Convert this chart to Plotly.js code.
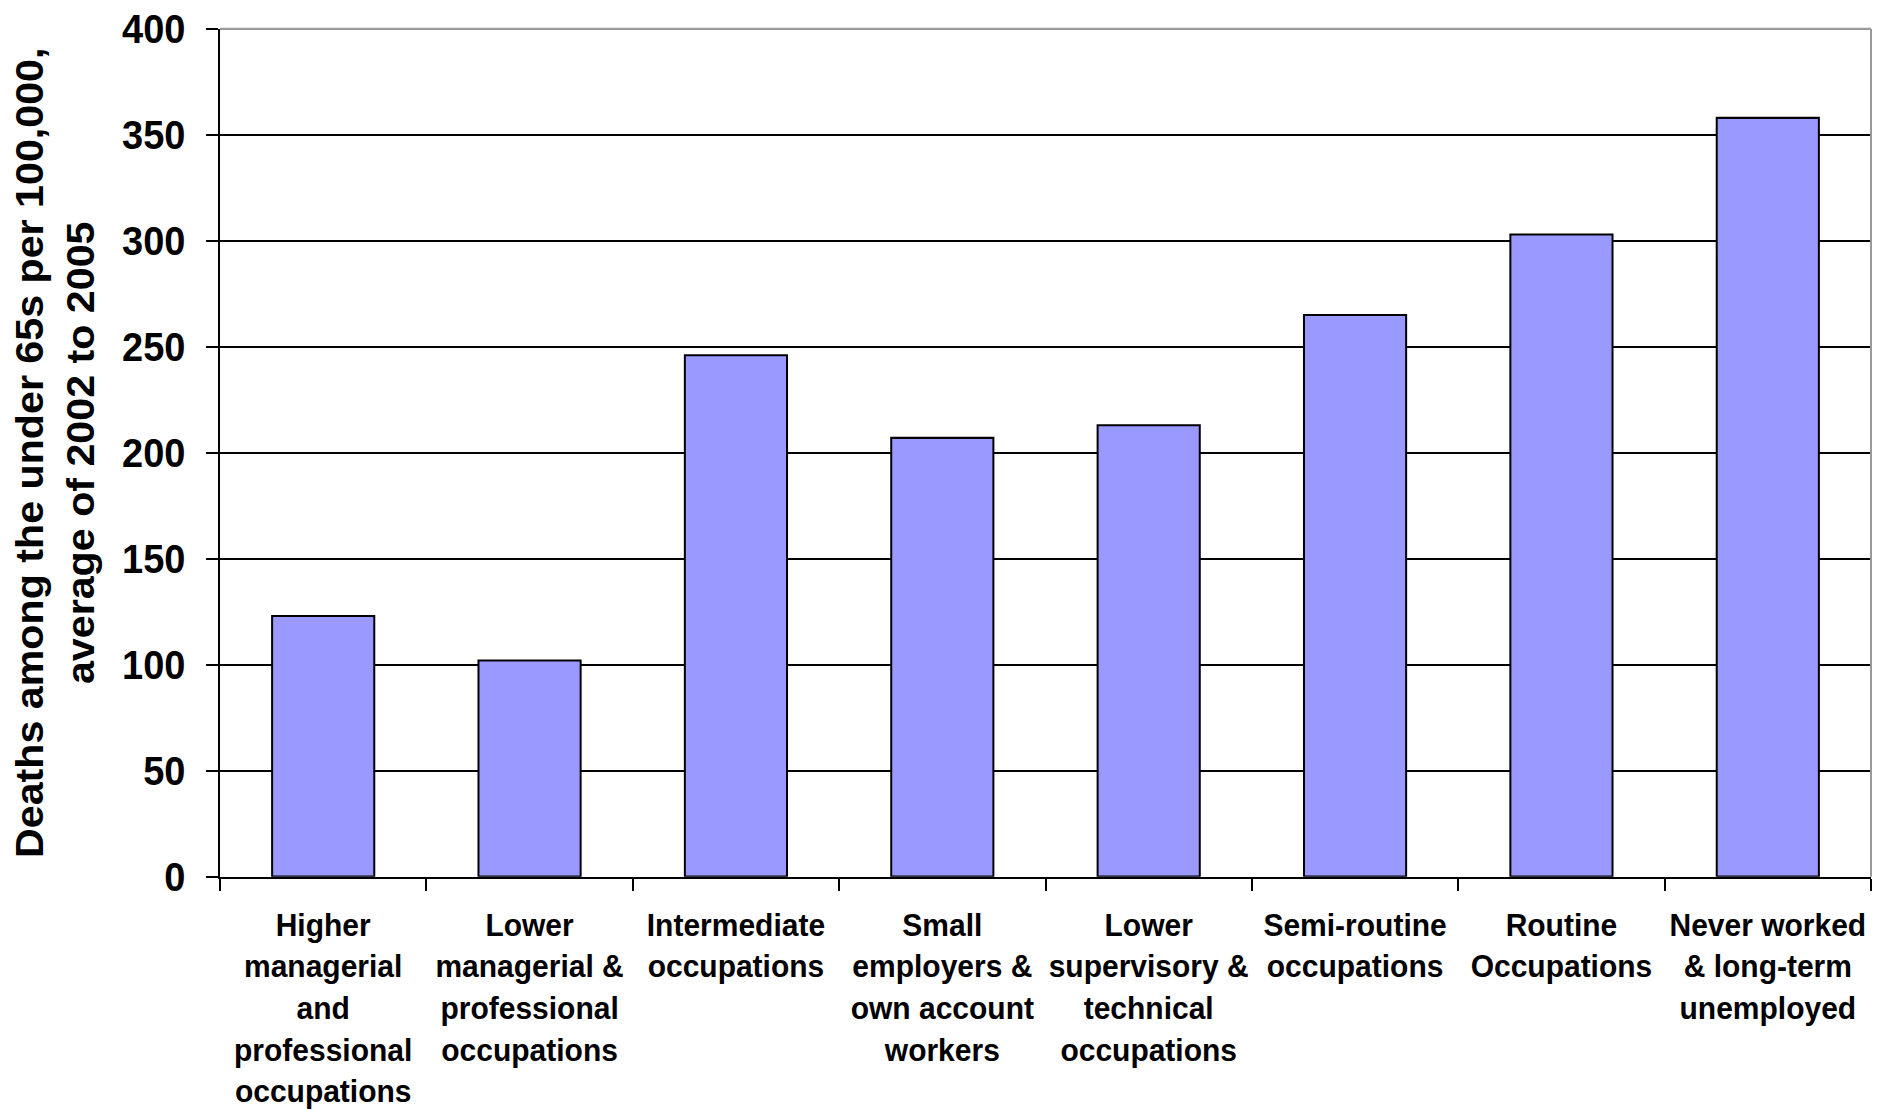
<!DOCTYPE html>
<html>
<head>
<meta charset="utf-8">
<script src="https://cdn.plot.ly/plotly-3.0.1.min.js"></script>
<style>
  html { margin: 0; padding: 0; background: #ffffff; overflow: hidden; }
  body { margin: 0; padding: 0; background: #ffffff; width: 1889px; height: 1110px; }
  #chart { width: 1889px; transform-origin: 0 0; }
</style>
</head>
<body>
<div id="chart"></div>
<script>
// Occupational classes (NS-SEC), in order along the x axis
const categories = [
  "Higher<br>managerial<br>and<br>professional<br>occupations",
  "Lower<br>managerial &<br>professional<br>occupations",
  "Intermediate<br>occupations",
  "Small<br>employers &<br>own account<br>workers",
  "Lower<br>supervisory &<br>technical<br>occupations",
  "Semi-routine<br>occupations",
  "Routine<br>Occupations",
  "Never worked<br>& long-term<br>unemployed"
];

// Deaths among the under 65s per 100,000, average of 2002 to 2005
const deathRates = [123, 102, 246, 207, 213, 265, 303, 358];

// Value axis ticks
const yTickValues = [0, 50, 100, 150, 200, 250, 300, 350, 400];
const yTickLabels = ["0", "50", "100", "150", "200", "250", "300", "350", "400"];

const yTitle = "Deaths among the under 65s per 100,000,<br>average of 2002 to 2005";

const FONT = "'Liberation Sans', Arial, Helvetica, sans-serif";

// The figure is laid out a little shorter and then stretched vertically
// to fill the page, which gives the tall, slightly condensed lettering.
const PAGE_H = 1110;
const FIG_H = 1037;
const chartDiv = document.getElementById("chart");
chartDiv.style.height = FIG_H + "px";
chartDiv.style.transform = "scaleY(" + (PAGE_H / FIG_H) + ")";

const trace = {
  type: "bar",
  x: categories,
  y: deathRates,
  marker: {
    color: "#9999ff",
    line: { color: "#000000", width: 2 }
  },
  hoverinfo: "x+y"
};

const layout = {
  width: 1889,
  height: FIG_H,
  margin: { l: 220, r: 18, t: 27, b: 218, pad: 0 },
  paper_bgcolor: "#ffffff",
  plot_bgcolor: "#ffffff",
  showlegend: false,
  bargap: 0.505,
  font: { family: FONT, color: "#000000" },
  xaxis: {
    type: "category",
    tickson: "boundaries",
    ticks: "outside",
    ticklen: 11,
    tickwidth: 2,
    tickcolor: "#000000",
    showline: true,
    linecolor: "#000000",
    linewidth: 2,
    showgrid: false,
    tickangle: 0,
    ticklabelstandoff: 17,
    tickfont: { family: FONT, size: 30, weight: 700, color: "#000000" },
    automargin: false
  },
  yaxis: {
    range: [0, 400],
    tickmode: "array",
    tickvals: yTickValues,
    ticktext: yTickLabels,
    ticks: "outside",
    ticklen: 12,
    tickwidth: 2,
    tickcolor: "#000000",
    showline: true,
    linecolor: "#000000",
    linewidth: 2,
    showgrid: true,
    gridcolor: "#000000",
    gridwidth: 2,
    zeroline: false,
    ticklabelstandoff: 13,
    tickfont: { family: FONT, size: 38, weight: 700, color: "#000000" },
    title: {
      text: yTitle,
      font: { family: FONT, size: 38.5, weight: 700, color: "#000000" },
      standoff: 16
    },
    automargin: false
  },
  shapes: [
    // light frame along the top and right of the plot area
    { type: "line", xref: "paper", yref: "paper", x0: 0, x1: 1, y0: 1, y1: 1,
      line: { color: "#9a9a9a", width: 2 }, layer: "above" },
    { type: "line", xref: "paper", yref: "paper", x0: 1, x1: 1, y0: 0, y1: 1,
      line: { color: "#9a9a9a", width: 2 }, layer: "above" }
  ]
};

Plotly.newPlot(chartDiv, [trace], layout, { displayModeBar: false, staticPlot: true });
</script>
</body>
</html>
